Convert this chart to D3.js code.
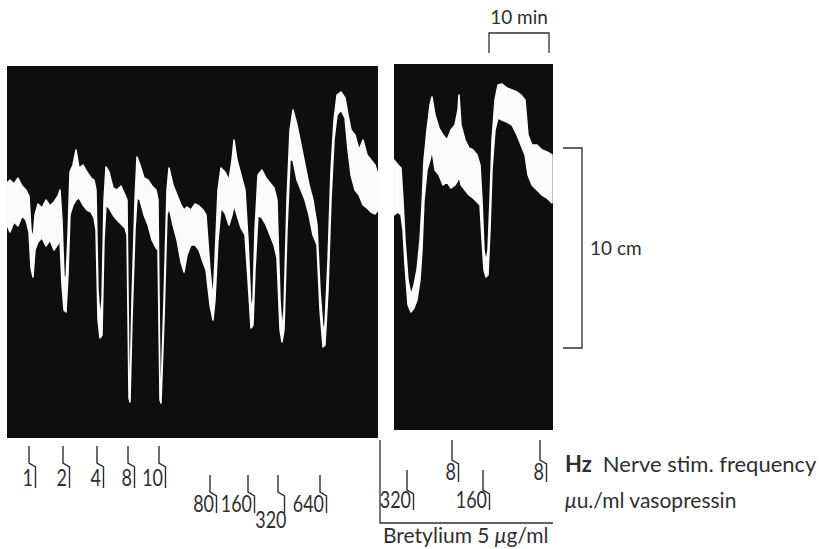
<!DOCTYPE html>
<html>
<head>
<meta charset="utf-8">
<script src="https://cdn.jsdelivr.net/npm/d3@7"></script>
<style>
  body { margin: 0; background: #fff; }
  svg { display: block; }
  text { font-family: Lato, "Open Sans", sans-serif; fill: #2f2f2f; }
</style>
</head>
<body>
<div id="chart"></div>
<script>
// trace before bretylium: time (s), upper and lower edge of the pen band (mm)
const leftTime = [0, 30, 70, 110, 150, 190, 220, 240, 260, 280, 310, 350, 390, 430, 470, 510, 530, 550, 570, 590,
  610, 630, 660, 690, 720, 760, 800, 840, 870, 890, 910, 930, 950, 970, 990, 1020, 1060, 1100, 1140, 1180,
  1200, 1220, 1230, 1250, 1280, 1300, 1330, 1370, 1410, 1450, 1490, 1510, 1530, 1540, 1570, 1600, 1620, 1660, 1700, 1740,
  1770, 1800, 1840, 1880, 1920, 1960, 1990, 2030, 2060, 2080, 2110, 2140, 2180, 2220, 2250, 2270, 2300, 2340, 2380, 2410,
  2440, 2460, 2480, 2510, 2550, 2590, 2630, 2670, 2700, 2730, 2750, 2770, 2800, 2830, 2860, 2900, 2940, 2980, 3020, 3060,
  3100, 3130, 3160, 3180, 3210, 3240, 3270, 3300, 3340, 3380, 3410, 3440, 3480, 3520, 3560, 3600, 3640, 3680, 3710];
const leftTop = [82.5, 84, 82, 85, 81, 79, 76, 59, 54, 66.5, 72, 70, 74, 71, 73, 76, 79, 64, 36, 34,
  56.5, 88, 91.5, 99, 90, 91.5, 88, 85, 84, 79, 29, 15, 24, 74, 90.5, 88, 80, 79, 81, 76.5,
  74, -16, -21, 24, 74, 95.5, 91.5, 85, 84, 81, 79, 74, -18.5, -22, 24, 79, 90, 81.5, 76.5, 71.5,
  69, 70.5, 69, 72, 71, 69, 66.5, 39, 24, 44, 79, 90, 88, 84, 94, 104, 94, 86.5, 79, 54,
  19, 24, 59, 86.5, 89, 85, 82.5, 80, 74, 24, 9, 19, 74, 109, 119, 111.5, 101.5, 91.5, 81.5, 74,
  61.5, 29, 9, 11.5, 44, 89, 114, 126.5, 128, 125, 116.5, 109, 106.5, 99, 104, 96.5, 94, 91.5, 86.5];
const leftBottom = [61.5, 58, 63, 61, 66, 64, 58, 40, 35.5, 49, 53, 55, 51, 54, 49, 52, 54, 31.5, 19, 18,
  36.5, 66.5, 71.5, 74, 75, 71.5, 69, 68, 65, 59, 14, 5, 6.5, 54, 71.5, 70, 66.5, 64, 62, 60,
  56.5, -25, -27, 14, 59, 75, 74, 66.5, 61.5, 54, 50, 49, -26, -27.5, 14, 66.5, 70.5, 61.5, 54, 43,
  38, 46.5, 51.5, 51.5, 49, 43, 39, 21.5, 14, 24, 54, 70, 67.5, 61.5, 66.5, 71.5, 66.5, 60, 56.5, 34,
  10, 11.5, 39, 66.5, 65, 61.5, 56.5, 51.5, 45, 9, 3, 9, 59, 94, 94, 84, 79, 74, 66.5, 56.5,
  51.5, 19, 0.5, 1.5, 29, 74, 104, 116.5, 119, 115, 99, 86.5, 79, 76.5, 71.5, 70, 68, 67, 69];

// trace with bretylium 5 ug/ml
const rightTime = [0, 40, 70, 90, 110, 140, 170, 200, 230, 260, 280, 300, 330, 360, 380, 410, 450, 490, 530, 570,
  610, 640, 650, 670, 710, 750, 790, 830, 860, 880, 900, 920, 940, 960, 980, 1010, 1040, 1080, 1130, 1180,
  1230, 1270, 1310, 1340, 1380, 1430, 1480, 1530, 1580];
const rightTop = [94, 91.5, 90, 74, 54, 34, 26.5, 31.5, 39, 54, 71.5, 94, 109, 121.5, 125.5, 116.5, 110, 106.5, 104, 109,
  111.5, 119, 126.5, 111.5, 104, 100, 99, 96.5, 91.5, 74, 49, 43, 49, 74, 104, 124, 131.5, 132, 130, 129,
  128, 126.5, 124, 106.5, 101.5, 101.5, 99, 98, 96.5];
const rightBottom = [66.5, 68, 66.5, 59, 41.5, 21.5, 18, 20, 24, 34, 49, 74, 89, 94, 99, 89, 86.5, 81.5, 83, 80,
  81.5, 84, 86.5, 81.5, 79, 76.5, 75, 73, 71.5, 54, 39, 35.5, 36.5, 59, 89, 109, 115, 114, 113, 111.5,
  106.5, 101.5, 96.5, 86.5, 81.5, 79, 76.5, 75, 72.5];

// event markers
const stimTimes = [220, 560, 900, 1210, 1520];          // left record, s
const stimLabels = ["1", "2", "4", "8", "10"];
const vasoTimes = [2030, 2410, 2710, 3130];              // left record, s
const vasoLabels = ["80", "160", "320", "640"];
const bretStimTimes = [580, 1460];                       // right record, s
const bretStimLabels = ["8", "8"];
const bretVasoTimes = [130, 890];
const bretVasoLabels = ["320", "160"];

const W = 823, H = 549;

const svg = d3.select("#chart").append("svg")
  .attr("width", W)
  .attr("height", H);

const xLeft = d3.scaleLinear().domain([0, 3710]).range([7, 378]);
const xRight = d3.scaleLinear().domain([0, 1590]).range([394, 553]);
const y = d3.scaleLinear().domain([-45, 141]).range([438, 66]);   // mm of pen deflection

function drawRecord(times, top, bottom, x, yMin, yMax) {
  const dom = x.domain();
  svg.append("rect")
    .attr("x", x(dom[0]))
    .attr("y", y(yMax))
    .attr("width", x(dom[1]) - x(dom[0]))
    .attr("height", y(yMin) - y(yMax))
    .attr("fill", "#0e0e0e");

  const rows = times.map((t, i) => ({ t: t, hi: top[i], lo: bottom[i] }));
  const area = d3.area()
    .x((d) => x(d.t))
    .y0((d) => y(d.lo))
    .y1((d) => y(d.hi));

  svg.append("path")
    .datum(rows)
    .attr("d", area)
    .attr("fill", "#fbfbfb")
    .attr("stroke", "#fbfbfb")
    .attr("stroke-width", 1.5)
    .attr("stroke-linejoin", "round");
}

drawRecord(leftTime, leftTop, leftBottom, xLeft, -45, 141);
drawRecord(rightTime, rightTop, rightBottom, xRight, -41, 142);

// marker: short line, a kink to the right, then down; label sits left of the lower part
function drawMarkers(times, labels, x, row, lowLabel) {
  times.forEach((t, i) => {
    const x0 = x(t);
    const x1 = x0 + 6.5;
    svg.append("path")
      .attr("d", `M${x0},${row.top}V${row.knee}L${x1},${row.knee + 4}V${row.bottom}`)
      .attr("fill", "none")
      .attr("stroke", "#2f2f2f")
      .attr("stroke-width", 1.4);

    const low = lowLabel === labels[i];
    svg.append("text")
      .attr("transform", `translate(${low ? x1 + 2 : x1 - 2.5},${low ? row.base + 16 : row.base}) scale(0.78,1)`)
      .attr("text-anchor", "end")
      .style("font-size", "23px")
      .text(labels[i]);
  });
}

drawMarkers(stimTimes, stimLabels, xLeft, { top: 446, knee: 463, bottom: 488, base: 486 });
drawMarkers(vasoTimes, vasoLabels, xLeft, { top: 475, knee: 492, bottom: 513, base: 512 }, "320");
drawMarkers(bretStimTimes, bretStimLabels, xRight, { top: 440, knee: 460, bottom: 482, base: 480 });
drawMarkers(bretVasoTimes, bretVasoLabels, xRight, { top: 470, knee: 490, bottom: 510, base: 508 });

// bretylium bar
svg.append("path")
  .attr("d", `M${xLeft(3730)},440V523H${xRight(1590)}`)
  .attr("fill", "none")
  .attr("stroke", "#2f2f2f")
  .attr("stroke-width", 1.3);

const bret = svg.append("text")
  .attr("x", xLeft(3730) + 3)
  .attr("y", 543)
  .style("font-size", "21px");
bret.append("tspan").text("Bretylium 5 ");
bret.append("tspan").style("font-style", "italic").text("\u03bc");
bret.append("tspan").text("g/ml");

// right hand legend
const hz = svg.append("text")
  .attr("x", 565)
  .attr("y", 472)
  .style("font-size", "22px");
hz.append("tspan").style("font-weight", "bold").text("Hz");
hz.append("tspan").attr("dx", 11).text("Nerve stim. frequency");

const vaso = svg.append("text")
  .attr("x", 565)
  .attr("y", 508)
  .style("font-size", "21px");
vaso.append("tspan").style("font-style", "italic").text("\u03bc");
vaso.append("tspan").text("u./ml vasopressin");

// time calibration: 10 min
const tBar = [950, 1550];
svg.append("path")
  .attr("d", `M${xRight(tBar[0])},53V33H${xRight(tBar[1])}V53`)
  .attr("fill", "none")
  .attr("stroke", "#2f2f2f")
  .attr("stroke-width", 1.3);
svg.append("text")
  .attr("x", (xRight(tBar[0]) + xRight(tBar[1])) / 2)
  .attr("y", 24)
  .attr("text-anchor", "middle")
  .style("font-size", "19px")
  .text("10 min");

// deflection calibration: 10 cm
const cmBar = [0, 100];
svg.append("path")
  .attr("d", `M563,${y(cmBar[1])}H582V${y(cmBar[0])}H563`)
  .attr("fill", "none")
  .attr("stroke", "#2f2f2f")
  .attr("stroke-width", 1.3);
svg.append("text")
  .attr("x", 590)
  .attr("y", y(50) + 7)
  .style("font-size", "19px")
  .text("10 cm");
</script>
</body>
</html>
